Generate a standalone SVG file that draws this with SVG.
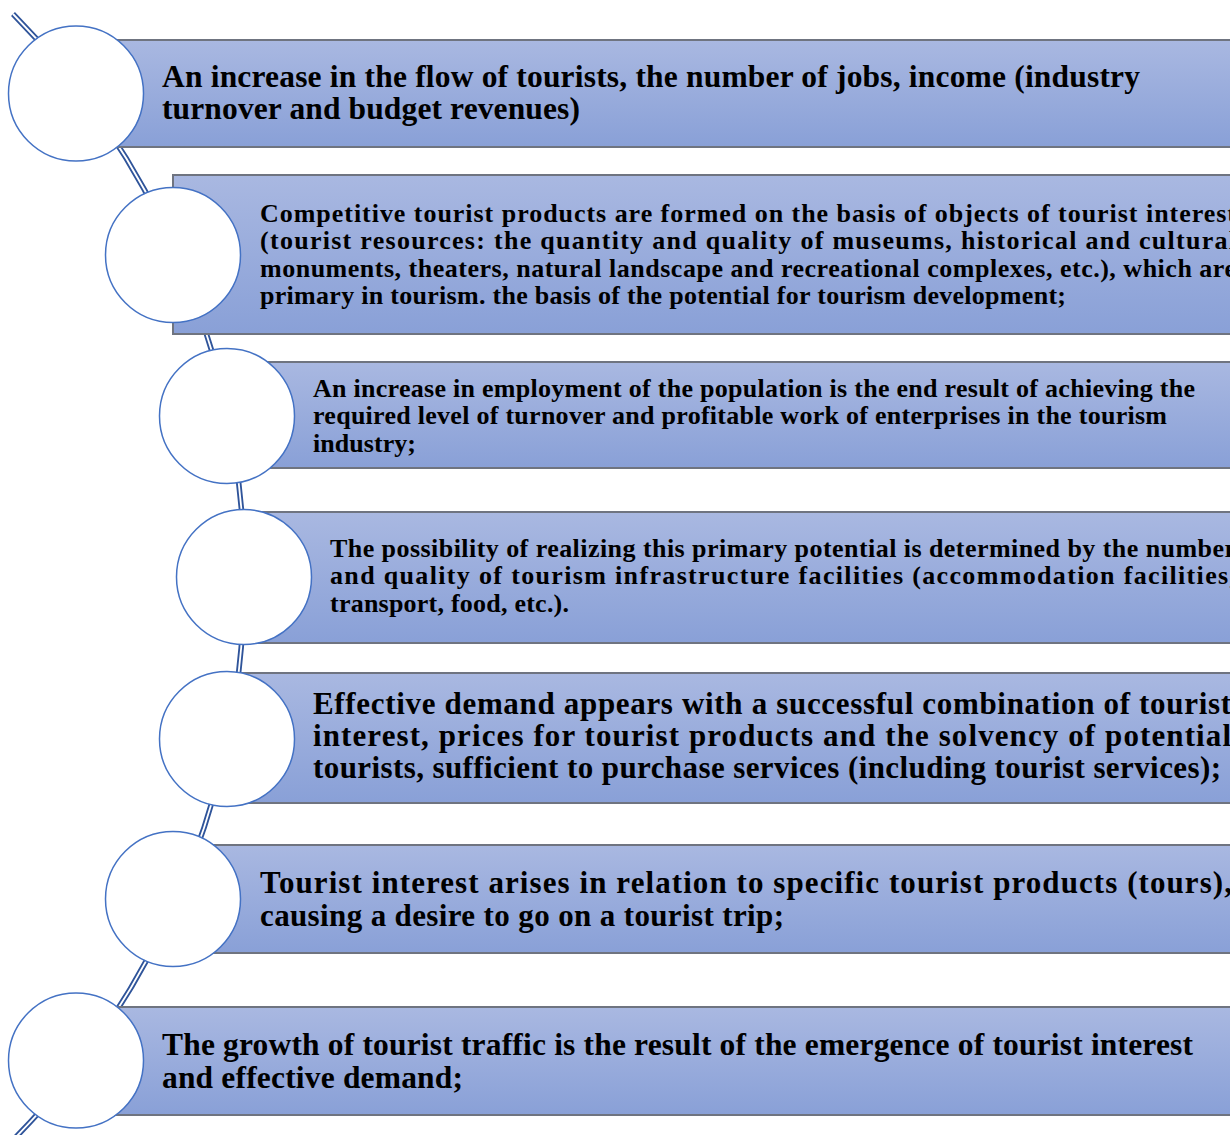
<svg xmlns="http://www.w3.org/2000/svg" width="1230" height="1135" viewBox="0 0 1230 1135">
  <style>
    .bar { fill: url(#barFill); stroke: #6f7480; stroke-width: 2; }
    .dot { fill: #ffffff; stroke: #4472c4; stroke-width: 1.5; }
    .rail { fill: none; stroke: #2f549a; stroke-width: 5.5; }
    .rail-gap { fill: none; stroke: #ffffff; stroke-width: 1.8; }
    text { font-family: "Liberation Serif", "Times New Roman", serif; font-weight: bold; fill: #000000; }
    .big { font-size: 31.5px; }
    .small { font-size: 26px; }
    .large { font-size: 31px; }
  </style>
  <defs>
    <linearGradient id="barFill" x1="0" y1="0" x2="0" y2="1">
      <stop offset="0" stop-color="#a9b8e1"/>
      <stop offset="1" stop-color="#89a0d7"/>
    </linearGradient>
  </defs>

  <rect width="1230" height="1135" fill="#ffffff"/>

  <!-- curved double rail linking the circles -->
  <g id="connectors">
    <path class="rail" d="M13,14 A801,801 0 0 1 13,1140"/>
    <path class="rail-gap" d="M13,14 A801,801 0 0 1 13,1140"/>
  </g>

  <g id="item1">
    <rect class="bar" x="76" y="40" width="1170" height="107"/>
    <circle class="dot" cx="76" cy="93.5" r="67.5"/>
    <text class="big" x="162" y="86.5" textLength="978" lengthAdjust="spacing">An increase in the flow of tourists, the number of jobs, income (industry</text>
    <text class="big" x="162" y="118.5" textLength="418" lengthAdjust="spacing">turnover and budget revenues)</text>
  </g>

  <g id="item2">
    <rect class="bar" x="173" y="175" width="1073" height="159"/>
    <circle class="dot" cx="173" cy="255" r="67.5"/>
    <text class="small" x="260" y="221.5" textLength="976" lengthAdjust="spacing">Competitive tourist products are formed on the basis of objects of tourist interest</text>
    <text class="small" x="260" y="249" textLength="976" lengthAdjust="spacing">(tourist resources: the quantity and quality of museums, historical and cultural</text>
    <text class="small" x="260" y="276.5" textLength="976" lengthAdjust="spacing">monuments, theaters, natural landscape and recreational complexes, etc.), which are</text>
    <text class="small" x="260" y="303.5" textLength="806" lengthAdjust="spacing">primary in tourism. the basis of the potential for tourism development;</text>
  </g>

  <g id="item3">
    <rect class="bar" x="227" y="362" width="1019" height="106"/>
    <circle class="dot" cx="227" cy="416" r="67.5"/>
    <text class="small" x="313" y="396.5" textLength="882" lengthAdjust="spacing">An increase in employment of the population is the end result of achieving the</text>
    <text class="small" x="313" y="424" textLength="854" lengthAdjust="spacing">required level of turnover and profitable work of enterprises in the tourism</text>
    <text class="small" x="313" y="451.5" textLength="103" lengthAdjust="spacing">industry;</text>
  </g>

  <g id="item4">
    <rect class="bar" x="244" y="512" width="1002" height="131"/>
    <circle class="dot" cx="244" cy="577" r="67.5"/>
    <text class="small" x="330" y="556.5" textLength="906" lengthAdjust="spacing">The possibility of realizing this primary potential is determined by the number</text>
    <text class="small" x="330" y="584" textLength="906" lengthAdjust="spacing">and quality of tourism infrastructure facilities (accommodation facilities,</text>
    <text class="small" x="330" y="611.5" textLength="239" lengthAdjust="spacing">transport, food, etc.).</text>
  </g>

  <g id="item5">
    <rect class="bar" x="227" y="673" width="1019" height="130"/>
    <circle class="dot" cx="227" cy="739" r="67.5"/>
    <text class="large" x="313" y="713.5" textLength="918" lengthAdjust="spacing">Effective demand appears with a successful combination of tourist</text>
    <text class="large" x="313" y="745.5" textLength="918" lengthAdjust="spacing">interest, prices for tourist products and the solvency of potential</text>
    <text class="large" x="313" y="777.5" textLength="908" lengthAdjust="spacing">tourists, sufficient to purchase services (including tourist services);</text>
  </g>

  <g id="item6">
    <rect class="bar" x="173" y="845" width="1073" height="108"/>
    <circle class="dot" cx="173" cy="899" r="67.5"/>
    <text class="large" x="260" y="892.5" textLength="972" lengthAdjust="spacing">Tourist interest arises in relation to specific tourist products (tours),</text>
    <text class="large" x="260" y="925.5" textLength="524" lengthAdjust="spacing">causing a desire to go on a tourist trip;</text>
  </g>

  <g id="item7">
    <rect class="bar" x="76" y="1007" width="1170" height="108"/>
    <circle class="dot" cx="76" cy="1060.5" r="67.5"/>
    <text class="big" x="162" y="1054.5" textLength="1031" lengthAdjust="spacing">The growth of tourist traffic is the result of the emergence of tourist interest</text>
    <text class="big" x="162" y="1087.5" textLength="301" lengthAdjust="spacing">and effective demand;</text>
  </g>
</svg>
